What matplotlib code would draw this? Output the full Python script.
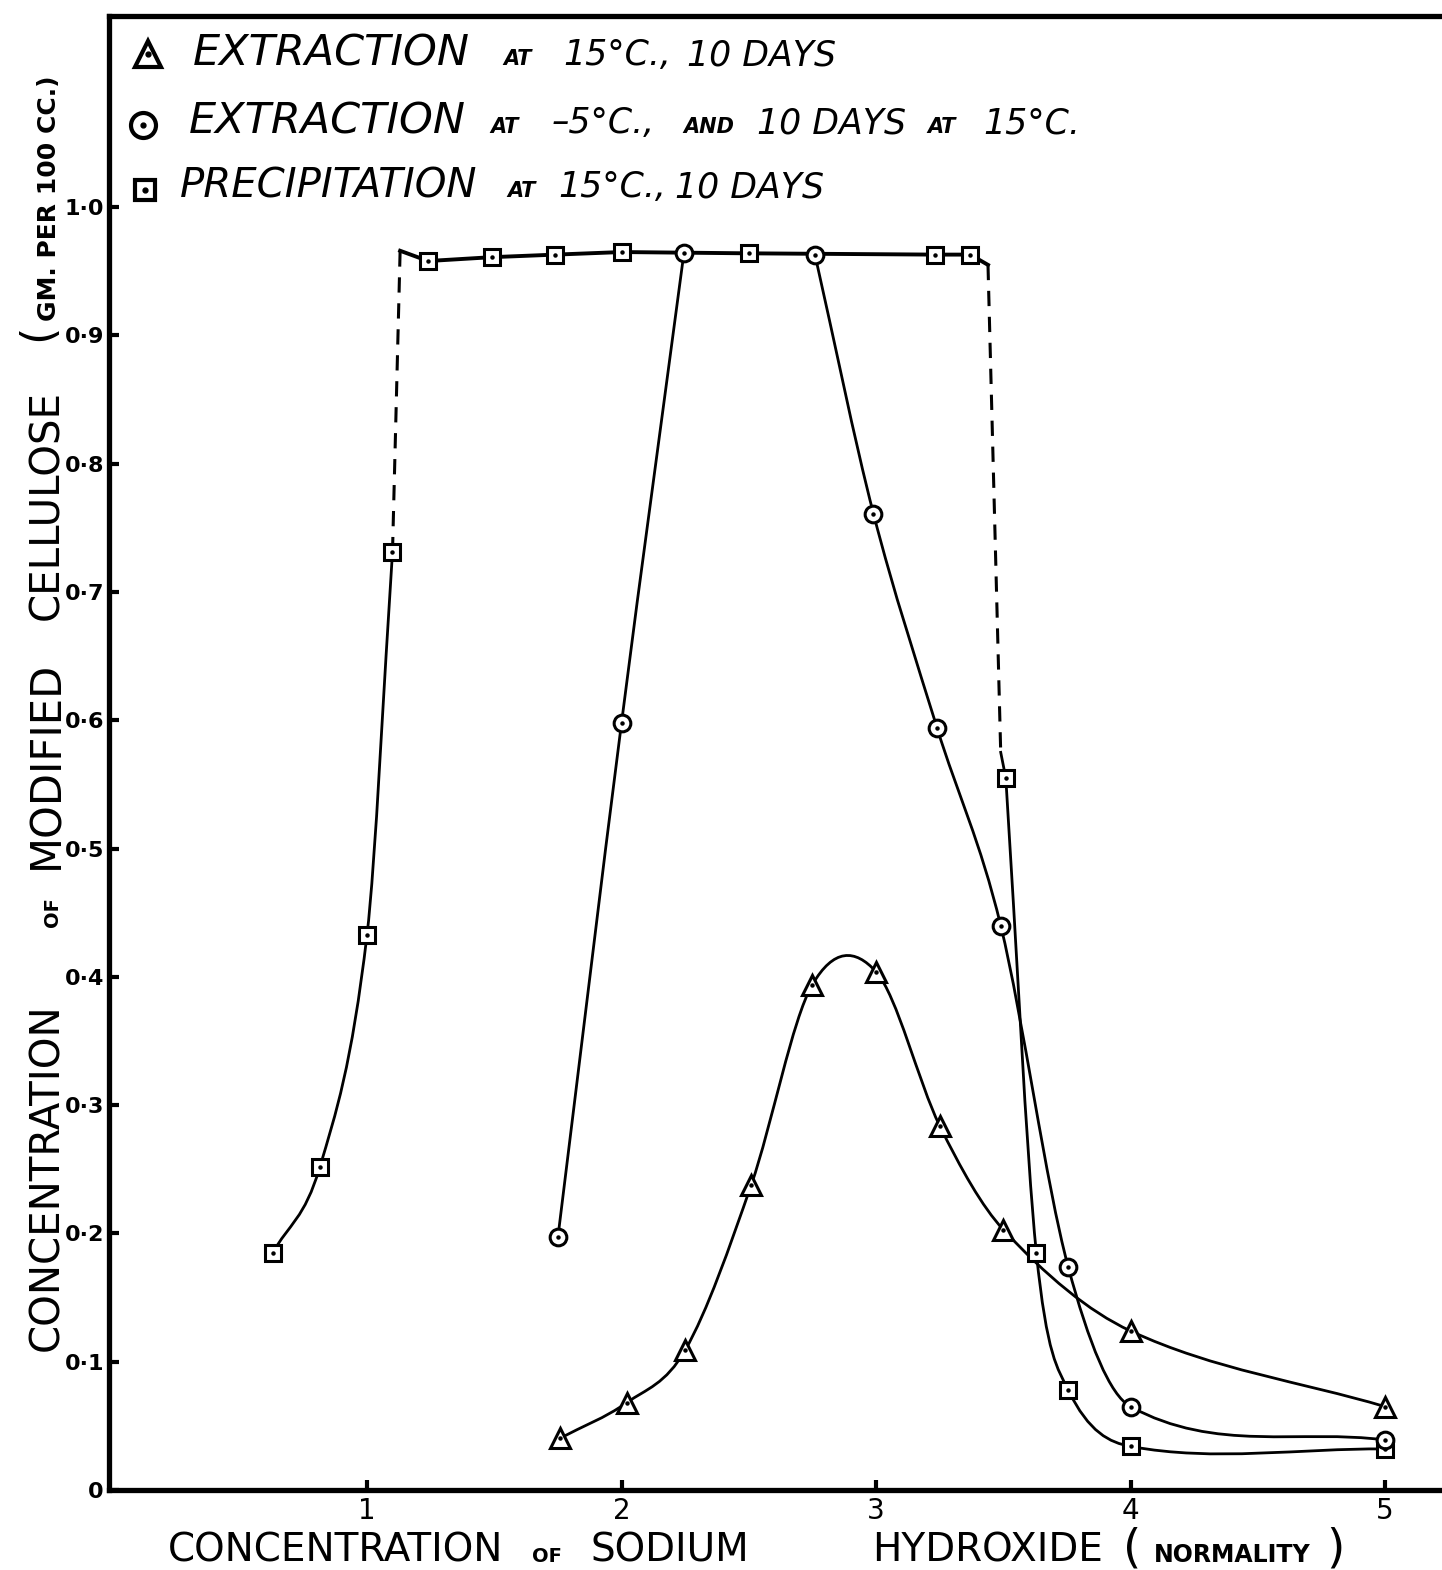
import matplotlib
matplotlib.use('Agg')
import matplotlib.pyplot as plt
from matplotlib.path import Path
from matplotlib.patches import PathPatch
import numpy as np

# --- data ---
# precipitation at 15 C, 10 days (squares)
sq_x = [0.63, 0.815, 1.0, 1.10, 1.24, 1.49, 1.74, 2.0, 2.5, 3.23, 3.37, 3.51, 3.63, 3.755, 4.0, 5.0]
sq_y = [0.185, 0.252, 0.433, 0.731, 0.958, 0.961, 0.963, 0.965, 0.964, 0.963, 0.963, 0.555, 0.185, 0.078, 0.034, 0.032]

# extraction at -5 C and 10 days at 15 C (circles)
circ_x = [1.75, 2.0, 2.245, 2.76, 2.99, 3.24, 3.49, 3.755, 4.0, 5.0]
circ_y = [0.197, 0.598, 0.964, 0.963, 0.761, 0.594, 0.440, 0.174, 0.065, 0.039]

# extraction at 15 C, 10 days (triangles)
tri_x = [1.76, 2.02, 2.25, 2.51, 2.75, 3.0, 3.25, 3.5, 4.0, 5.0]
tri_y = [0.0405, 0.068, 0.109, 0.238, 0.394, 0.404, 0.284, 0.203, 0.124, 0.065]

# dashed jumps of the precipitation curve and the plateau corners
jump_up_x = [1.10, 1.13]
jump_up_y = [0.731, 0.966]
jump_down_x = [3.44, 3.49]
jump_down_y = [0.955, 0.575]

x_ticks = [1, 2, 3, 4, 5]
x_tick_labels = ['1', '2', '3', '4', '5']
y_ticks = [0, 0.1, 0.2, 0.3, 0.4, 0.5, 0.6, 0.7, 0.8, 0.9, 1.0]
y_tick_labels = ['0', '0·1', '0·2', '0·3', '0·4', '0·5', '0·6', '0·7', '0·8', '0·9', '1·0']

W, H = 1442, 1570


def fx(px):
    return px / W


def fy(py):
    return 1 - py / H


def smooth_path(xs, ys):
    """Cubic Hermite curve through the points, written as bezier segments."""
    x = np.asarray(xs, float)
    y = np.asarray(ys, float)
    n = len(x)
    m = np.zeros(n)
    m[0] = (y[1] - y[0]) / (x[1] - x[0])
    m[-1] = (y[-1] - y[-2]) / (x[-1] - x[-2])
    for i in range(1, n - 1):
        m[i] = (y[i + 1] - y[i - 1]) / (x[i + 1] - x[i - 1])
    verts = [(x[0], y[0])]
    codes = [Path.MOVETO]
    for i in range(n - 1):
        h = (x[i + 1] - x[i]) / 3
        verts += [(x[i] + h, y[i] + m[i] * h),
                  (x[i + 1] - h, y[i + 1] - m[i + 1] * h),
                  (x[i + 1], y[i + 1])]
        codes += [Path.CURVE4] * 3
    return Path(verts, codes)


def draw_curve(ax, xs, ys, lw=2.0):
    ax.add_patch(PathPatch(smooth_path(xs, ys), fill=False, edgecolor='black',
                           linewidth=lw, capstyle='round', zorder=2))


def draw_markers(ax, xs, ys, marker, ms):
    ax.plot(xs, ys, linestyle='none', marker=marker, markersize=ms,
            markerfacecolor='white', markeredgecolor='black',
            markeredgewidth=2.2, zorder=4)
    ax.plot(xs, ys, linestyle='none', marker='o', markersize=2.2,
            color='black', zorder=5)


fig = plt.figure(figsize=(W / 100, H / 100), dpi=100)
ax = fig.add_axes([fx(109.5), 1 - 1490 / H, 1 - fx(109.5), (1490 - 16) / H])

ax.set_xlim(-0.012, 5.224)
ax.set_ylim(0, 1.149)

# precipitation curve: left rise, dashed jump, plateau, dashed drop, right tail
draw_curve(ax, sq_x[0:4], sq_y[0:4])
ax.plot(jump_up_x, jump_up_y, color='black', linewidth=2.2, dashes=(5, 3.5), zorder=2)
plateau_x = [jump_up_x[1]] + sq_x[4:11] + [jump_down_x[0]]
plateau_y = [jump_up_y[1]] + sq_y[4:11] + [jump_down_y[0]]
ax.plot(plateau_x, plateau_y, color='black', linewidth=2.8, zorder=2)
ax.plot(jump_down_x, jump_down_y, color='black', linewidth=2.2, dashes=(5, 3.5), zorder=2)
ax.plot([jump_down_x[1], sq_x[11]], [jump_down_y[1], sq_y[11]], color='black',
        linewidth=2.0, zorder=2)
draw_curve(ax, sq_x[11:], sq_y[11:])

# circle curve: rise to the plateau, then the fall from it
draw_curve(ax, circ_x[0:3], circ_y[0:3])
draw_curve(ax, circ_x[3:], circ_y[3:])

# triangle curve
draw_curve(ax, tri_x, tri_y)

draw_markers(ax, sq_x, sq_y, 's', 11)
draw_markers(ax, circ_x, circ_y, 'o', 12)
draw_markers(ax, tri_x, tri_y, '^', 14)

# axes styling
for side in ['left', 'bottom', 'top']:
    ax.spines[side].set_linewidth(3.8)
ax.spines['right'].set_visible(False)
ax.set_xticks(x_ticks)
ax.set_xticklabels(x_tick_labels, fontsize=20)
ax.set_yticks(y_ticks)
ax.set_yticklabels(y_tick_labels, fontsize=16, fontweight='bold')
ax.tick_params(axis='both', direction='in', length=7, width=3)
ax.tick_params(axis='x', pad=5)
ax.tick_params(axis='y', pad=4)

# legend, built from mixed-size lettering: (x start, text, size)
legend_rows = [
    ('^', 148, 54, 19, 65, [(193, 'EXTRACTION', 31), (503, 'AT', 15), (563, '15°C.,', 25),
                            (687, '10 DAYS', 25)]),
    ('o', 143, 125, 18, 133, [(189, 'EXTRACTION', 31), (490, 'AT', 15), (552, '–5°C.,', 25),
                              (683, 'AND', 15), (757, '10 DAYS', 25), (927, 'AT', 15),
                              (983, '15°C.', 25)]),
    ('s', 145, 190, 15, 197, [(180, 'PRECIPITATION', 29), (507, 'AT', 15),
                              (558, '15°C.,', 25), (675, '10 DAYS', 25)]),
]
for marker, mx, my, ms, base, pieces in legend_rows:
    ax.plot([fx(mx)], [fy(my)], transform=fig.transFigure, clip_on=False,
            marker=marker, markersize=ms, markerfacecolor='white',
            markeredgecolor='black', markeredgewidth=3)
    ax.plot([fx(mx)], [fy(my)], transform=fig.transFigure, clip_on=False,
            marker='o', markersize=3.5, color='black')
    for px, txt, size in pieces:
        fig.text(fx(px), fy(base), txt, fontsize=size, style='italic',
                 fontweight='bold' if size < 20 else 'normal',
                 ha='left', va='baseline')

# x axis label
x_label_pieces = [(336, 'CONCENTRATION', 28), (547, 'OF', 14), (670, 'SODIUM', 28),
                  (988, 'HYDROXIDE', 28), (1132, '(', 34), (1232, 'NORMALITY', 17),
                  (1335, ')', 34)]
for px, txt, size in x_label_pieces:
    fig.text(fx(px), fy(1562), txt, fontsize=size,
             fontweight='bold' if size < 20 else 'normal',
             ha='center', va='baseline')

# y axis label (rotated): (center y, text, size, baseline x)
y_label_pieces = [(1177, 'CONCENTRATION', 29, 58), (912, 'OF', 14, 58),
                  (765, 'MODIFIED', 30, 58), (505, 'CELLULOSE', 29, 58),
                  (332, '(', 32, 50), (198, 'GM. PER 100 CC.)', 18, 56)]
for py, txt, size, bx in y_label_pieces:
    fig.text(fx(bx), fy(py), txt, fontsize=size, rotation=90,
             rotation_mode='anchor', ha='center', va='baseline',
             fontweight='bold' if size < 20 else 'normal')

plt.savefig('out.png', dpi=100)
plt.close()
